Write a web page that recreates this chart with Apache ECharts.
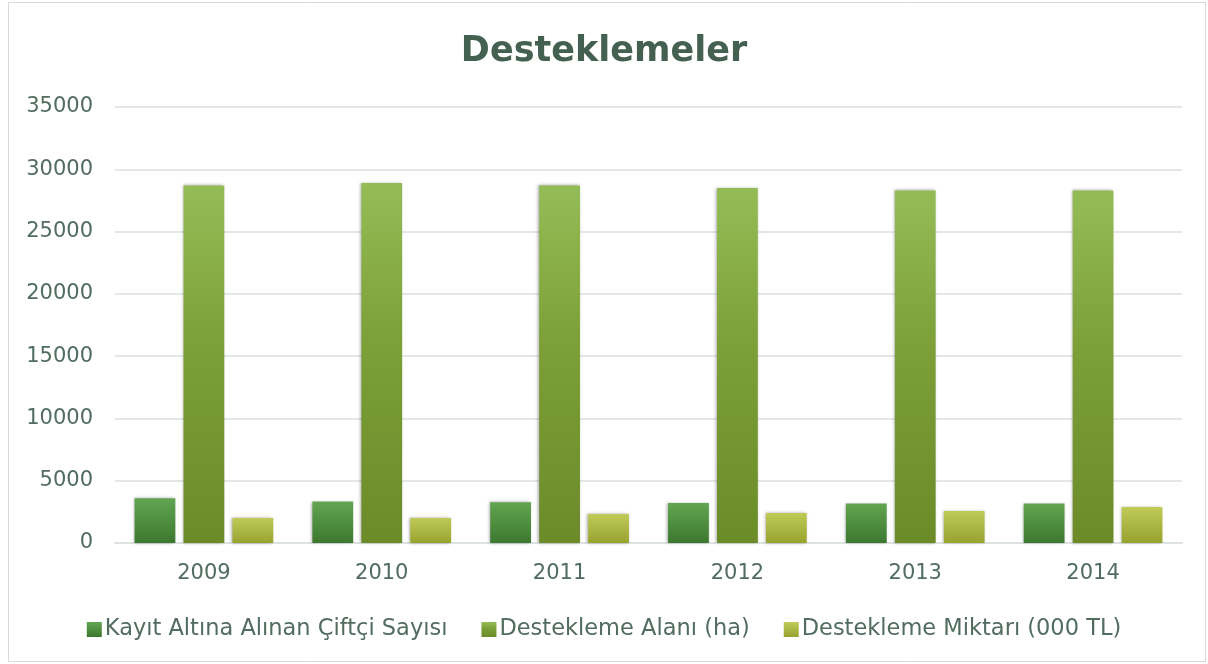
<!DOCTYPE html>
<html>
<head>
<meta charset="utf-8">
<script src="https://cdn.jsdelivr.net/npm/echarts@6/dist/echarts.min.js"></script>
<style>
html, body { margin: 0; padding: 0; background: #fff; }
#chart { width: 1208px; height: 664px; }
</style>
</head>
<body>
<div id="chart"></div>
<script>
var years = ['2009', '2010', '2011', '2012', '2013', '2014'];
var ciftci = [3600, 3330, 3280, 3220, 3170, 3170];
var alan = [28700, 28900, 28700, 28500, 28300, 28300];
var miktar = [2000, 2000, 2320, 2400, 2570, 2890];
var yTicks = [0, 5000, 10000, 15000, 20000, 25000, 30000, 35000];

var textColor = '#526c5f';
var fontName = 'DejaVu Sans';

function grad(top, bottom) {
	return new echarts.graphic.LinearGradient(0, 0, 0, 1, [
		{ offset: 0, color: top },
		{ offset: 1, color: bottom }
	]);
}

var option = {
	animation: false,
	backgroundColor: '#fff',
	graphic: [{
		type: 'rect',
		shape: { x: 8.5, y: 2.5, width: 1197, height: 659 },
		style: { fill: 'none', stroke: '#d9d9d9', lineWidth: 1 },
		silent: true
	}],
	title: {
		text: 'Desteklemeler',
		left: 'center',
		top: 29,
		textStyle: { fontFamily: fontName, fontSize: 35, fontWeight: 'bold', color: '#446050' }
	},
	legend: {
		bottom: 18,
		left: 'center',
		itemWidth: 15,
		itemHeight: 15,
		itemGap: 34,
		icon: 'rect',
		selectedMode: false,
		textStyle: { fontFamily: fontName, fontSize: 22.5, color: textColor, padding: [0, 0, 0, -2] }
	},
	grid: { left: 115, right: 26, top: 107, bottom: 121, containLabel: false },
	xAxis: {
		type: 'category',
		data: years,
		axisTick: { show: false },
		axisLine: { lineStyle: { color: '#dde3e0', width: 2 } },
		axisLabel: { fontFamily: fontName, fontSize: 21, color: textColor, margin: 20 }
	},
	yAxis: {
		type: 'value',
		min: yTicks[0],
		max: yTicks[yTicks.length - 1],
		interval: 5000,
		axisLine: { show: false },
		axisTick: { show: false },
		splitLine: { lineStyle: { color: '#e3e8e5', width: 2 } },
		axisLabel: {
			fontFamily: fontName, fontSize: 21, color: textColor, margin: 22,
			formatter: function (v) { return String(v); }
		}
	},
	series: [
		{
			name: 'Kayıt Altına Alınan Çiftçi Sayısı',
			type: 'bar',
			data: ciftci,
			barGap: '20%',
			barCategoryGap: '22%',
			itemStyle: {
				color: grad('#62a551', '#3c782f'),
				shadowColor: 'rgba(0,0,0,0.35)', shadowBlur: 3, shadowOffsetX: -1
			}
		},
		{
			name: 'Destekleme Alanı (ha)',
			type: 'bar',
			data: alan,
			itemStyle: {
				color: new echarts.graphic.LinearGradient(0, 0, 0, 1, [
					{ offset: 0, color: '#94bc56' },
					{ offset: 0.45, color: '#7c9f38' },
					{ offset: 1, color: '#6b8b29' }
				]),
				shadowColor: 'rgba(0,0,0,0.35)', shadowBlur: 3, shadowOffsetX: -1
			}
		},
		{
			name: 'Destekleme Miktarı (000 TL)',
			type: 'bar',
			data: miktar,
			itemStyle: {
				color: grad('#c0ca56', '#98a22e'),
				shadowColor: 'rgba(0,0,0,0.35)', shadowBlur: 3, shadowOffsetX: -1
			}
		}
	]
};

var chart = echarts.init(document.getElementById('chart'));
chart.setOption(option);
</script>
</body>
</html>
